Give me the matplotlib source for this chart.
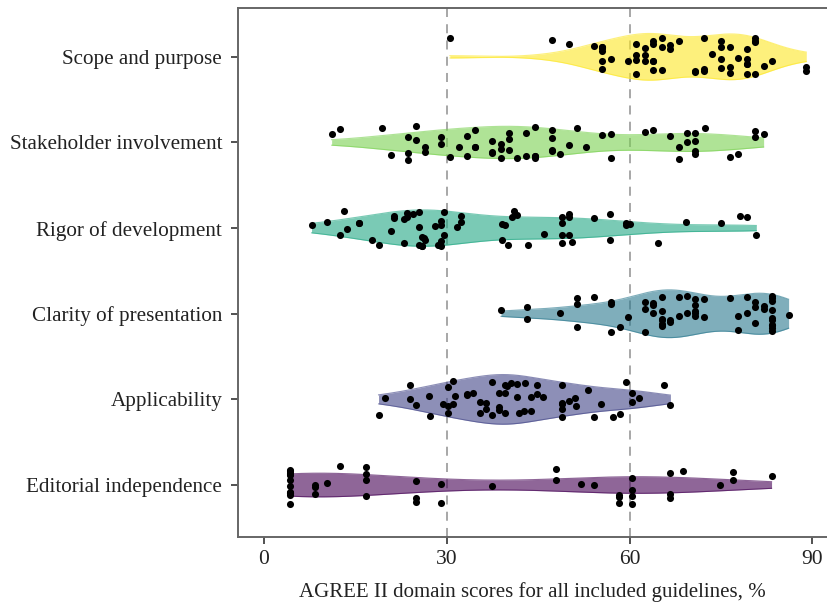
import numpy as np
import matplotlib
matplotlib.use("Agg")
import matplotlib.pyplot as plt

# domains, bottom to top
domains = ["Editorial independence", "Applicability", "Clarity of presentation",
           "Rigor of development", "Stakeholder involvement", "Scope and purpose"]
colors = ["#440154", "#414487", "#2A788E", "#22A884", "#7AD151", "#FDE725"]

scope = [30.5, 47.3, 50.0, 54.2, 55.5, 55.5, 55.5, 55.5, 55.5, 55.5, 56.9, 59.7,
         61.1, 61.1, 61.1, 61.1, 62.5, 62.5, 62.5, 63.9, 63.9, 63.9, 63.9, 63.9,
         65.3, 65.3, 65.3, 66.6, 66.6, 68.1, 70.8, 70.8, 72.2, 72.2, 72.2, 73.6,
         75.0, 75.0, 75.0, 75.0, 76.4, 76.4, 76.4, 77.8, 79.2, 79.2, 79.2, 79.2,
         79.2, 80.6, 80.6, 80.6, 80.6, 82.0, 83.4, 89.0, 89.0]
stakeholder = [11.1, 12.5, 19.4, 20.8, 23.6, 23.6, 23.6, 25.0, 25.0, 26.4, 26.4,
               29.1, 29.1, 30.5, 32.0, 33.3, 33.3, 34.7, 34.7, 34.7, 37.4, 37.4,
               37.4, 38.9, 38.9, 38.9, 40.2, 40.2, 40.2, 41.6, 43.0, 43.0, 44.5,
               44.5, 44.5, 44.5, 47.2, 47.2, 47.2, 47.2, 48.6, 50.0, 51.4, 52.8,
               55.5, 56.9, 56.9, 62.5, 63.9, 66.7, 68.1, 68.1, 69.4, 69.4, 70.8,
               70.8, 70.8, 70.8, 72.3, 76.4, 77.8, 80.6, 80.6, 82.0]
rigor = [7.8, 10.4, 12.4, 13.1, 13.6, 15.6, 15.6, 17.8, 18.8, 20.8, 21.3, 21.3,
         22.9, 22.9, 23.4, 23.4, 24.5, 25.5, 25.5, 25.5, 26.0, 26.0, 26.0, 26.2,
         26.5, 28.1, 28.6, 29.1, 29.1, 29.1, 29.1, 29.6, 29.6, 31.7, 32.3, 32.3,
         39.1, 39.1, 39.6, 40.1, 40.7, 41.1, 41.6, 43.3, 45.9, 48.9, 48.9, 48.9,
         48.9, 50.0, 50.0, 50.0, 50.5, 54.2, 56.8, 56.8, 59.4, 59.4, 60.0, 64.6,
         69.2, 75.0, 78.2, 79.3, 80.8]
clarity = [38.9, 43.2, 43.2, 48.6, 51.4, 51.4, 51.4, 54.2, 56.9, 56.9, 56.9, 58.4,
           59.7, 62.5, 62.5, 62.5, 63.9, 63.9, 63.9, 65.3, 65.3, 65.3, 65.3, 65.3,
           65.3, 65.3, 66.7, 66.7, 68.1, 68.1, 69.4, 69.4, 70.8, 70.8, 70.8, 70.8,
           70.8, 72.2, 72.2, 76.4, 77.8, 77.8, 79.3, 79.3, 80.6, 80.6, 80.6, 82.0,
           82.0, 83.4, 83.4, 83.4, 83.4, 83.4, 83.4, 83.4, 83.4, 83.4, 83.4, 86.1]
applicability = [18.8, 19.8, 23.9, 23.9, 25.0, 27.0, 27.2, 29.3, 30.2, 30.2, 30.2,
                 31.1, 31.1, 31.3, 33.3, 33.3, 34.3, 35.4, 35.4, 36.4, 36.4, 37.4,
                 37.4, 38.5, 38.5, 38.5, 39.5, 39.5, 39.5, 39.8, 40.5, 41.6, 41.6,
                 41.9, 42.6, 42.8, 43.8, 43.8, 44.8, 44.8, 45.8, 48.9, 48.9, 48.9,
                 48.9, 48.9, 50.0, 51.0, 51.2, 53.1, 54.2, 55.3, 57.2, 58.4, 59.4,
                 60.4, 60.4, 61.5, 65.6, 66.7]
editorial = [4.2] * 12 + [8.3, 8.3, 8.3, 10.4, 12.4, 16.7, 16.7, 16.7, 16.7, 25.0,
                          25.0, 25.0, 29.1, 29.1, 37.4, 47.9, 47.9, 52.1, 54.1, 58.3,
                          58.3, 58.3, 60.4, 60.4, 60.4, 60.4, 66.6, 66.6, 66.6, 68.7,
                          74.9, 77.0, 77.0, 83.3]

groups = [editorial, applicability, clarity, rigor, stakeholder, scope]


def kde(vals, grid):
    v = np.asarray(vals, dtype=float)
    q75, q25 = np.percentile(v, [75, 25])
    bw = 0.9 * min(v.std(ddof=1), (q75 - q25) / 1.34) * len(v) ** -0.2
    z = (grid[:, None] - v[None, :]) / bw
    return np.exp(-0.5 * z ** 2).sum(axis=1) / (len(v) * bw * np.sqrt(2 * np.pi))


dens = []
for g in groups:
    grid = np.linspace(min(g), max(g), 512)
    dens.append((grid, kde(g, grid)))
dmax = max(d.max() for _, d in dens)

plt.rcParams['font.family'] = ['Liberation Serif', 'DejaVu Serif']
fig = plt.figure(figsize=(8.27, 6.05), dpi=100)
ax = fig.add_axes([237.5 / 827, 68 / 605, 1 - 237.5 / 827, 529 / 605])

for xv in (30, 60):
    ax.axvline(xv, color="#a0a0a0", ls=(0, (5, 4)), lw=1.3, zorder=0)

rng = np.random.default_rng(7)
for i, (g, (grid, d)) in enumerate(zip(groups, dens)):
    hw = d / dmax * 0.29
    ax.fill_between(grid, i - hw, i + hw, color=colors[i], alpha=0.6, lw=0, zorder=1)
    ax.plot(grid, i + hw, color=colors[i], lw=0.8, alpha=0.6, zorder=1)
    ax.plot(grid, i - hw, color=colors[i], lw=0.8, alpha=0.6, zorder=1)
    jit = rng.uniform(-0.22, 0.22, len(g))
    ax.scatter(g, i + jit, s=26, color="black", lw=0, zorder=3)

ax.set_xlim(-4.35, 92.4)
ax.set_ylim(-0.607, 5.57)
ax.set_yticks(range(len(domains)))
ax.set_yticklabels(domains, fontsize=15.2, color="#222222")
ax.set_xticks([0, 30, 60, 90])
ax.tick_params(axis="x", labelsize=15.5, labelcolor="#222222", length=5, width=1.2,
               color="#333333", pad=4)
ax.tick_params(axis="y", length=5, width=1.2, color="#333333", pad=6)
ax.set_xlabel("AGREE II domain scores for all included guidelines, %",
              fontsize=15, color="#222222", labelpad=10)
for s in ("left", "bottom", "top"):
    ax.spines[s].set_color("#666666")
    ax.spines[s].set_linewidth(1.4)
ax.spines["right"].set_visible(False)

fig.savefig("out.png", dpi=100)
